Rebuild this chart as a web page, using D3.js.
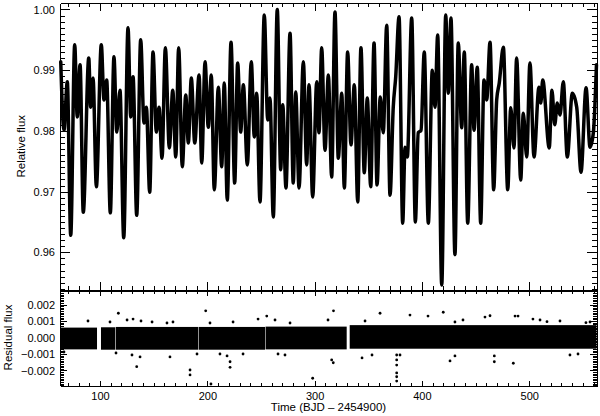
<!DOCTYPE html>
<html>
<head>
<meta charset="utf-8">
<script src="https://cdn.jsdelivr.net/npm/d3@7"></script>
<style>
body { margin: 0; background: #fff; }
text { font-family: "Liberation Sans", Arial, sans-serif; fill: #000; }
</style>
</head>
<body>
<svg id="chart" width="600" height="416"></svg>
<script>
// light curve, turning points (time in BJD - 2454900)
var fluxTime = [
  63.4, 66.4, 69.5, 72.7, 76.4, 78.8, 81.4, 84.4, 89.5, 91.3, 93.5, 96.6,
  101.2, 103.7, 106.2, 109.6, 113.0, 115.6, 118.6, 122.1, 126.1, 128.6, 130.8, 134.2,
  137.9, 141.0, 143.2, 146.3, 149.4, 152.5, 155.0, 157.8, 160.9, 164.6, 167.8, 170.6,
  173.3, 176.7, 179.9, 182.3, 185.1, 188.3,
  192.3, 194.8, 197.9, 200.9, 203.7, 206.5, 210.3, 213.4, 215.8, 218.6, 222.1, 225.5,
  228.3, 231.1, 233.6, 237.3, 241.0, 243.8, 246.0, 249.1, 253.1, 256.3, 258.4, 261.5,
  265.2, 268.4, 270.3, 273.3, 277.1, 280.1, 282.4, 285.5, 289.5, 292.6, 294.8, 298.2,
  302.0, 304.1, 306.6, 309.7, 312.8,
  315.9, 319.0, 322.1, 325.3, 327.7, 330.8, 333.9, 337.0, 340.2, 343.2, 346.3, 349.1,
  352.3, 355.4, 358.2, 361.2, 364.0, 367.2, 370.3, 373.3, 375.6, 378.7, 382.1, 384.3,
  386.4, 390.5, 393.9, 396.6, 399.2, 402.2, 406.0, 409.7, 412.2, 414.7, 418.5, 422.2,
  424.6, 427.1, 430.8, 433.9, 437.1, 439.5,
  442.7, 446.4, 448.6, 451.6, 454.8, 457.9, 460.4, 463.5, 466.9, 469.7, 472.1, 475.9,
  480.0, 482.8, 485.8, 488.3, 492.1, 494.5, 497.7, 500.7, 504.5, 509.1, 510.8, 512.6,
  518.7, 521.2, 523.8, 526.2, 528.7, 531.8, 535.5, 540.2, 544.3, 548.3, 553.0, 556.7,
  559.8, 562.7
];
var fluxValue = [
  0.9914, 0.9801, 0.9881, 0.9628, 0.9942, 0.9823, 0.9909, 0.9666, 0.9920, 0.9839, 0.9887, 0.9708,
  0.9942, 0.9851, 0.9884, 0.9665, 0.9922, 0.9798, 0.9867, 0.9624, 0.9970, 0.9823, 0.9889, 0.9661,
  0.9950, 0.9813, 0.9839, 0.9699, 0.9930, 0.9798, 0.9839, 0.9755, 0.9937, 0.9772, 0.9867, 0.9757,
  0.9937, 0.9741, 0.9859, 0.9780, 0.9887, 0.9780,
  0.9892, 0.9747, 0.9914, 0.9806, 0.9892, 0.9703, 0.9872, 0.9741, 0.9879, 0.9686, 0.9946, 0.9714,
  0.9912, 0.9798, 0.9876, 0.9744, 0.9914, 0.9790, 0.9862, 0.9683, 0.9991, 0.9818, 0.9854, 0.9658,
  1.0000, 0.9736, 0.9843, 0.9706, 0.9961, 0.9714, 0.9864, 0.9706, 0.9914, 0.9744, 0.9876, 0.9691,
  0.9881, 0.9797, 0.9937, 0.9768, 0.9892,
  0.9724, 0.9996, 0.9755, 0.9862, 0.9706, 0.9930, 0.9777, 0.9876, 0.9683, 0.9937, 0.9731, 0.9854,
  0.9708, 0.9945, 0.9711, 0.9856, 0.9797, 0.9974, 0.9694, 0.9839, 0.9889, 0.9988, 0.9648, 0.9773,
  0.9757, 0.9986, 0.9650, 0.9797, 0.9801, 0.9930, 0.9648, 0.9900, 0.9839, 0.9958, 0.9546, 0.9991,
  0.9862, 0.9986, 0.9596, 0.9945, 0.9805, 0.9930,
  0.9648, 0.9909, 0.9801, 0.9905, 0.9648, 0.9884, 0.9851, 0.9946, 0.9703, 0.9851, 0.9879, 0.9938,
  0.9703, 0.9838, 0.9772, 0.9920, 0.9719, 0.9829, 0.9757, 0.9912, 0.9757, 0.9872, 0.9846, 0.9884,
  0.9772, 0.9867, 0.9810, 0.9846, 0.9826, 0.9881, 0.9757, 0.9862, 0.9839, 0.9732, 0.9871, 0.9773,
  0.9797, 0.9909
];

// residuals: the dense band, one entry per stretch of data between gaps
var bandStart = [63.4, 100.9, 114.7, 192.1, 254.3, 332.7];
var bandEnd   = [97.2, 114.2, 191.6, 253.8, 329.9, 562.7];
var bandHigh  = [0.00060, 0.00062, 0.00064, 0.00064, 0.00066, 0.00075];
var bandLow   = [-0.00072, -0.00074, -0.00074, -0.00074, -0.00072, -0.00068];

// residuals: single points standing out of the band
var outTime = [
  117.1, 134.2, 183.9, 183.9, 198.5, 203.4, 221.2, 221.2, 255.4, 298.2, 315.9, 317.4,
  317.6, 361.0, 376.5, 376.5, 376.5, 376.5, 376.5, 376.5, 388.9, 419.9, 426.2, 467.5,
  467.5, 463.5, 485.2, 486.8, 489.6, 503.5, 510.1, 516.6, 552.9,
  88.8, 109.3, 125.2, 130.8, 138.2, 148.5, 162.4, 168.0, 202.5, 224.0, 247.3, 263.1,
  277.1, 312.5, 347.0, 405.7, 430.8, 438.3, 458.8, 528.7, 556.7,
  66.4, 114.9, 129.8, 137.3, 165.2, 190.4, 211.8, 218.4, 233.3, 265.9, 272.4, 344.2,
  353.5, 379.6, 430.8, 538.0, 545.5
];
var outValue = [
  0.00147, -0.00177, -0.00197, -0.00227, 0.00162, -0.00282, -0.00147, -0.00181, 0.00130, -0.00247, -0.00136, -0.00153,
  0.00162, 0.00147, -0.00106, -0.00136, -0.00167, -0.00215, -0.00238, -0.00264, 0.00136, 0.00153, -0.00142, -0.00112,
  -0.00147, 0.00132, -0.00156, 0.00130, 0.00130, 0.00112, 0.00106, 0.00096, 0.00090,
  0.00100, 0.00094, 0.00106, 0.00112, 0.00100, 0.00094, 0.00088, 0.00094, 0.00088, 0.00094, 0.00112, 0.00106,
  0.00088, 0.00106, 0.00100, 0.00130, 0.00094, 0.00106, 0.00124, 0.00100, 0.00094,
  -0.00088, -0.00094, -0.00106, -0.00118, -0.00118, -0.00100, -0.00100, -0.00112, -0.00100, -0.00100, -0.00106, -0.00124,
  -0.00106, -0.00106, -0.00112, -0.00106, -0.00100
];

// tick labels
var timeTicks = [100, 200, 300, 400, 500];
var fluxTicks = [0.96, 0.97, 0.98, 0.99, 1.00];
var residTicks = [-0.002, -0.001, 0, 0.001, 0.002];


var svg = d3.select("#chart");

var left = 60, right = 597;
var topY0 = 3, split = 289.5, botY1 = 385.5;

var x = d3.scaleLinear().domain([62.7, 563.2]).range([left, right]);
var yTop = d3.scaleLinear().domain([0.95387, 1.00107]).range([split, topY0]);
var yBot = d3.scaleLinear().domain([-0.00291, 0.00291]).range([botY1, split]);

// minor tick positions
var timeMinor = d3.range(7, 57).filter(d => d % 10 !== 0).map(d => d * 10);
var fluxMinor = d3.range(954, 1001).filter(d => d % 10 !== 0).map(d => d / 1000);
var residMinor = d3.range(-29, 30).filter(d => d % 10 !== 0).map(d => d / 10000);

var resFmt = d3.format(".3f");


// Draw light curve
var lc = fluxTime.map((t, i) => ({t: t, f: fluxValue[i]}));

var line = d3.line()
  .x(d => x(d.t))
  .y(d => yTop(d.f))
  .curve(d3.curveMonotoneX);

svg.append("path")
  .datum(lc)
  .attr("d", line)
  .attr("fill", "none")
  .attr("stroke", "#000")
  .attr("stroke-width", 3.5)
  .attr("stroke-linejoin", "round")
  .attr("stroke-linecap", "round");


// Draw residual band
var band = bandStart.map((s, i) => ({s: s, e: bandEnd[i], hi: bandHigh[i], lo: bandLow[i]}));

svg.selectAll("rect.band")
  .data(band)
  .enter().append("rect")
  .attr("class", "band")
  .attr("x", d => x(d.s))
  .attr("y", d => yBot(d.hi))
  .attr("width", d => x(d.e) - x(d.s))
  .attr("height", d => yBot(d.lo) - yBot(d.hi))
  .attr("fill", "#000");

// outlying residual points
var outs = outTime.map((t, i) => ({t: t, r: outValue[i]}));

svg.selectAll("circle.out")
  .data(outs)
  .enter().append("circle")
  .attr("class", "out")
  .attr("cx", d => x(d.t))
  .attr("cy", d => yBot(d.r))
  .attr("r", 1.4)
  .attr("fill", "#000");


// Axes (ticks point inward, on all four sides)
function addAxis(axis, tx, ty, noDomain){
  var g = svg.append("g")
    .attr("transform", "translate(" + tx + "," + ty + ")")
    .attr("shape-rendering", "crispEdges")
    .call(axis);
  g.selectAll("text").attr("font-size", 11);
  g.selectAll("line").attr("stroke", "#000");
  if(noDomain){
    g.select(".domain").remove();
  } else {
    g.select(".domain").attr("stroke", "#000");
  }
  return g;
}

// top panel
addAxis(d3.axisLeft(yTop).tickValues(fluxTicks).tickFormat(d3.format(".2f"))
  .tickSize(-10).tickSizeOuter(0).tickPadding(5), left, 0);
addAxis(d3.axisLeft(yTop).tickValues(fluxMinor).tickFormat("").tickSize(-5), left, 0, true);
addAxis(d3.axisRight(yTop).tickValues(fluxTicks).tickFormat("").tickSize(-10).tickSizeOuter(0), right, 0);
addAxis(d3.axisRight(yTop).tickValues(fluxMinor).tickFormat("").tickSize(-5), right, 0, true);
addAxis(d3.axisTop(x).tickValues(timeTicks).tickFormat("").tickSize(-8).tickSizeOuter(0), 0, topY0);
addAxis(d3.axisTop(x).tickValues(timeMinor).tickFormat("").tickSize(-4), 0, topY0, true);
addAxis(d3.axisBottom(x).tickValues(timeTicks).tickFormat("").tickSize(-8).tickSizeOuter(0), 0, split);
addAxis(d3.axisBottom(x).tickValues(timeMinor).tickFormat("").tickSize(-4), 0, split, true);

// bottom panel
addAxis(d3.axisLeft(yBot).tickValues(residTicks).tickFormat(resFmt)
  .tickSize(-7).tickSizeOuter(0).tickPadding(5), left, 0);
addAxis(d3.axisLeft(yBot).tickValues(residMinor).tickFormat("").tickSize(-4), left, 0, true);
addAxis(d3.axisRight(yBot).tickValues(residTicks).tickFormat("").tickSize(-7).tickSizeOuter(0), right, 0);
addAxis(d3.axisRight(yBot).tickValues(residMinor).tickFormat("").tickSize(-4), right, 0, true);
addAxis(d3.axisTop(x).tickValues(timeTicks).tickFormat("").tickSize(-5).tickSizeOuter(0), 0, split + 1);
addAxis(d3.axisTop(x).tickValues(timeMinor).tickFormat("").tickSize(-3), 0, split + 1, true);
addAxis(d3.axisBottom(x).tickValues(timeTicks).tickFormat(d3.format("d"))
  .tickSize(-5).tickSizeOuter(0).tickPadding(7), 0, botY1);
addAxis(d3.axisBottom(x).tickValues(timeMinor).tickFormat("").tickSize(-3), 0, botY1, true);


// axis titles
svg.append("text")
  .attr("transform", "translate(25," + ((topY0 + split) / 2) + ") rotate(-90)")
  .attr("text-anchor", "middle")
  .attr("font-size", 11.5)
  .text("Relative flux");

svg.append("text")
  .attr("transform", "translate(12," + ((split + botY1) / 2) + ") rotate(-90)")
  .attr("text-anchor", "middle")
  .attr("font-size", 11.5)
  .text("Residual flux");

svg.append("text")
  .attr("x", (left + right) / 2)
  .attr("y", 411)
  .attr("text-anchor", "middle")
  .attr("font-size", 11.5)
  .text("Time (BJD \u2013 2454900)");
</script>
</body>
</html>
